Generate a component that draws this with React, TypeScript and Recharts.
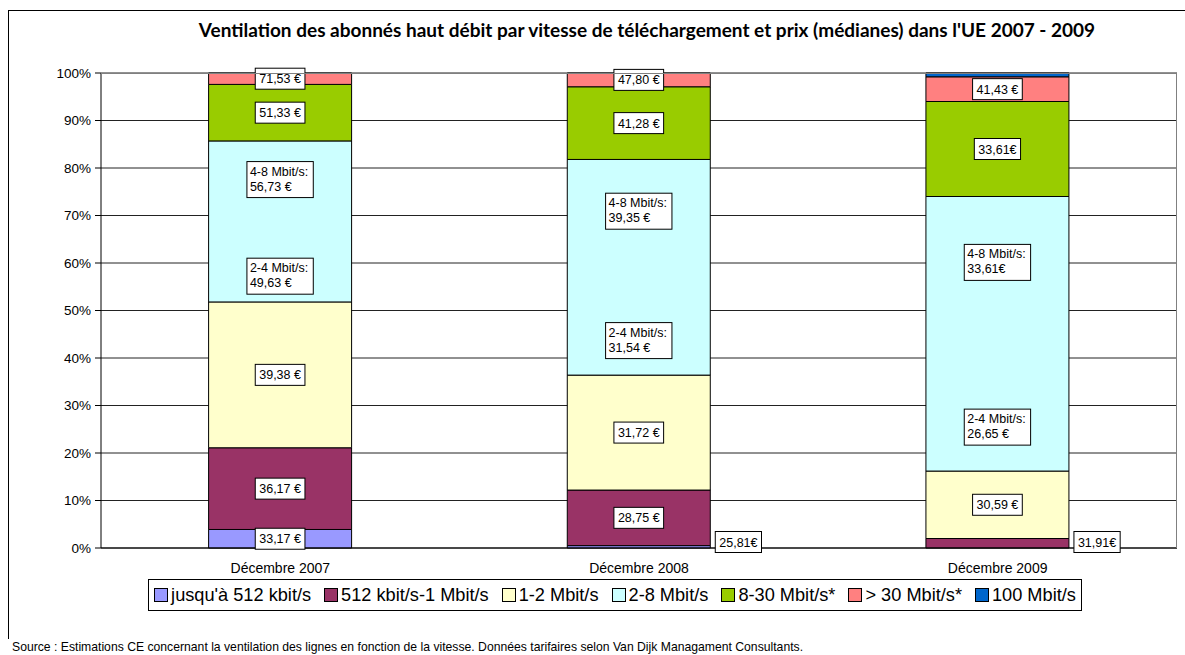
import React from 'react'
import { BarChart, Bar, XAxis, YAxis, CartesianGrid, LabelList } from 'recharts'

const FONT = '"Liberation Sans", Arial, sans-serif'

const categories = ['Décembre 2007', 'Décembre 2008', 'Décembre 2009']
const percentTicks = [0, 10, 20, 30, 40, 50, 60, 70, 80, 90, 100]

// share of subscriptions per speed class (% of lines)
const shareUpTo512k = [3.9, 0.5, 0]
const share512kTo1M = [17.2, 11.7, 2.0]
const share1To2M = [30.7, 24.2, 14.2]
const share2To8M = [33.9, 45.4, 57.8]
const share8To30M = [11.9, 15.3, 20.0]
const shareOver30M = [2.4, 2.9, 5.2]
const share100M = [0, 0, 0.8]

// median prices
const priceUpTo512k = ['33,17 €', '25,81€', '']
const price512kTo1M = ['36,17 €', '28,75 €', '31,91€']
const price1To2M = ['39,38 €', '31,72 €', '30,59 €']
const price2To4M = ['49,63 €', '31,54 €', '26,65 €']
const price4To8M = ['56,73 €', '39,35 €', '33,61€']
const price8To30M = ['51,33 €', '41,28 €', '33,61€']
const priceOver30M = ['71,53 €', '47,80 €', '41,43 €']

const series = [
  { key: 's0', name: "jusqu'à 512 kbit/s", color: '#9999FF', values: shareUpTo512k, prices: priceUpTo512k },
  { key: 's1', name: '512 kbit/s-1 Mbit/s', color: '#993366', values: share512kTo1M, prices: price512kTo1M },
  { key: 's2', name: '1-2 Mbit/s', color: '#FFFFCC', values: share1To2M, prices: price1To2M },
  { key: 's3', name: '2-8 Mbit/s', color: '#CCFFFF', values: share2To8M, prices: null },
  { key: 's4', name: '8-30 Mbit/s*', color: '#99CC00', values: share8To30M, prices: price8To30M },
  { key: 's5', name: '> 30 Mbit/s*', color: '#FF8080', values: shareOver30M, prices: priceOver30M },
  { key: 's6', name: '100 Mbit/s', color: '#0066CC', values: share100M, prices: null },
]

const data = categories.map((period, i) => {
  const row: Record<string, string | number> = { period }
  series.forEach((s) => { row[s.key] = s.values[i] })
  return row
})

let ctx: CanvasRenderingContext2D | null = null
function textWidth(t: string, size: number) {
  if (!ctx) ctx = document.createElement('canvas').getContext('2d')
  if (!ctx) return t.length * size * 0.55
  ctx.font = `${size}px "Liberation Sans"`
  return ctx.measureText(t).width
}

const LABEL_SIZE = 12.5

function PriceBox({ cx, cy, lines, left }: { cx: number; cy: number; lines: string[]; left?: number }) {
  const w = Math.max(...lines.map((l) => textWidth(l, LABEL_SIZE))) + 8
  const h = lines.length === 1 ? 21 : 36
  const bx = left !== undefined ? left : cx - w / 2
  const by = cy - h / 2
  return (
    <g>
      <rect x={bx} y={by} width={w} height={h} fill="#fff" stroke="#000" strokeWidth={1} />
      {lines.map((l, i) => (
        <text
          key={i}
          x={lines.length === 1 ? bx + w / 2 : bx + 3}
          y={lines.length === 1 ? cy + 4.5 : by + 14 + i * 15}
          textAnchor={lines.length === 1 ? 'middle' : 'start'}
          fontSize={LABEL_SIZE}
          fontFamily={FONT}
          fill="#000"
        >
          {l}
        </text>
      ))}
    </g>
  )
}

// single price in the middle of a segment, or beside the bar when the segment is too thin
const singleLabel = (prices: string[]) => (props: any) => {
  const vb = props.viewBox || props
  const { x, y, width, height } = vb
  const p = prices[props.index]
  if (!p || !height) return null
  if (height < 10.5) {
    return <PriceBox cx={0} cy={y + height - 6} lines={[p]} left={x + width + 5} />
  }
  return <PriceBox cx={x + width / 2} cy={y + height / 2} lines={[p]} />
}

const twoLineLabel = (prefix: string, prices: string[], frac: number) => (props: any) => {
  const vb = props.viewBox || props
  const { x, y, width, height } = vb
  const p = prices[props.index]
  if (!p || !height) return null
  return <PriceBox cx={x + width / 2} cy={y + height * frac} lines={[prefix, p]} />
}

function LegendBox() {
  return (
    <div
      style={{
        position: 'absolute', left: 148, top: 579, width: 934, height: 32, boxSizing: 'border-box',
        border: '1px solid #000', display: 'flex', alignItems: 'center', justifyContent: 'center',
        fontFamily: FONT, fontSize: 18.2, color: '#000', whiteSpace: 'nowrap', background: '#fff',
      }}
    >
      {series.map((s, i) => (
        <div key={s.key} style={{ display: 'flex', alignItems: 'center', marginLeft: i ? 13 : 0 }}>
          <span style={{ width: 12, height: 12, background: s.color, border: '1px solid #000', marginRight: 3, display: 'inline-block' }} />
          {s.name}
        </div>
      ))}
    </div>
  )
}

export default function App() {
  return (
    <div style={{ position: 'absolute', left: 0, top: 0, width: 1185, height: 655, overflow: 'hidden', background: '#fff' }}>
      {/* chart frame */}
      <div style={{ position: 'absolute', left: 8, top: 10, width: 1300, height: 628, borderLeft: '1px solid #000', borderTop: '1px solid #000' }} />
      <div
        style={{
          position: 'absolute', left: 97, top: 18, width: 1100, textAlign: 'center',
          fontFamily: 'Lato, sans-serif', fontWeight: 700, fontSize: 19, color: '#000', whiteSpace: 'nowrap',
        }}
      >
        Ventilation des abonnés haut débit par vitesse de téléchargement et prix (médianes) dans l'UE 2007 - 2009
      </div>
      <div style={{ position: 'absolute', left: 0, top: 0 }}>
        <BarChart
          width={1185}
          height={655}
          data={data}
          stackOffset="expand"
          barCategoryGap="30%"
          margin={{ top: 73, right: 8, bottom: 77, left: 0 }}
        >
          <CartesianGrid vertical={false} stroke="#222" strokeWidth={1} />
          <XAxis
            dataKey="period"
            height={30}
            tickLine={false}
            axisLine={{ stroke: '#000' }}
            tickMargin={9}
            tick={{ fill: '#000', fontSize: 14, fontFamily: FONT }}
          />
          <YAxis
            type="number"
            domain={[0, 1]}
            ticks={percentTicks.map((t) => t / 100)}
            tickFormatter={(v: number) => `${Math.round(v * 100)}%`}
            width={101}
            tickSize={6}
            tickMargin={4}
            axisLine={{ stroke: '#000' }}
            tickLine={{ stroke: '#000' }}
            tick={{ fill: '#000', fontSize: 13.5, fontFamily: FONT }}
          />
          {series.map((s) => (
            <Bar key={s.key} dataKey={s.key} name={s.name} stackId="a" fill={s.color} stroke="#000" strokeWidth={1} isAnimationActive={false}>
              {s.prices && <LabelList dataKey={s.key} content={singleLabel(s.prices)} />}
              {s.key === 's3' && <LabelList dataKey={s.key} content={twoLineLabel('4-8 Mbit/s:', price4To8M, 0.24)} />}
              {s.key === 's3' && <LabelList dataKey={s.key} content={twoLineLabel('2-4 Mbit/s:', price2To4M, 0.84)} />}
            </Bar>
          ))}
        </BarChart>
      </div>
      {/* plot area border */}
      <div style={{ position: 'absolute', left: 101, top: 73, width: 1076, height: 475, borderRight: '1px solid #808080', borderTop: '1px solid #808080', boxSizing: 'border-box', pointerEvents: 'none' }} />
      <LegendBox />
      <div style={{ position: 'absolute', left: 12, top: 640, fontFamily: FONT, fontSize: 12.2, color: '#000', whiteSpace: 'nowrap' }}>
        Source : Estimations CE concernant la ventilation des lignes en fonction de la vitesse. Données tarifaires selon Van Dijk Managament Consultants.
      </div>
    </div>
  )
}
